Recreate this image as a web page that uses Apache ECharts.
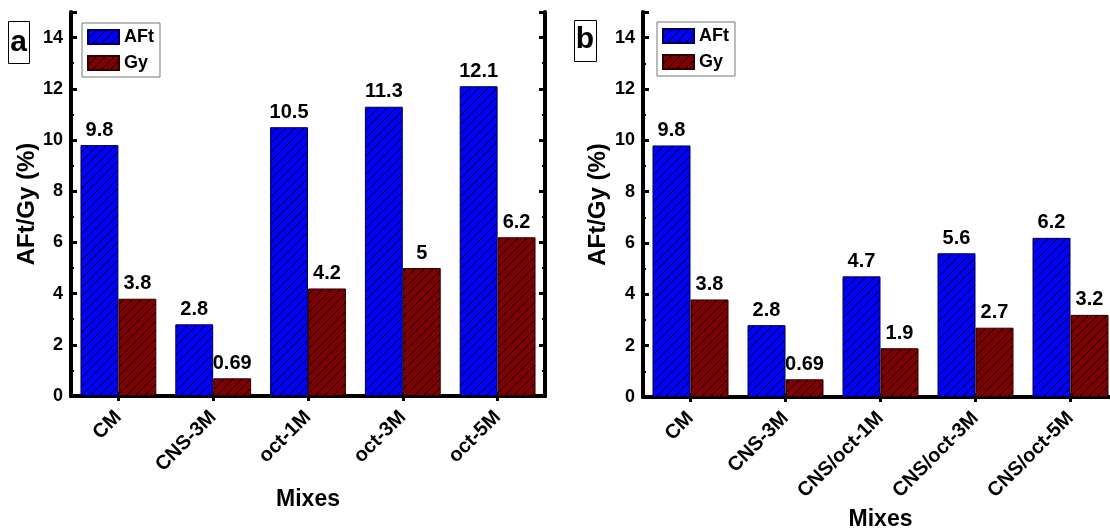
<!DOCTYPE html>
<html>
<head>
<meta charset="utf-8">
<script src="https://cdn.jsdelivr.net/npm/echarts@6/dist/echarts.min.js"></script>
<style>
html,body{margin:0;padding:0;background:#fff;}
#chart{width:1110px;height:529px;}
</style>
</head>
<body>
<div id="chart"></div>
<script>
// ---- data ----
const categoriesA = ['CM', 'CNS-3M', 'oct-1M', 'oct-3M', 'oct-5M'];
const categoriesB = ['CM', 'CNS-3M', 'CNS/oct-1M', 'CNS/oct-3M', 'CNS/oct-5M'];
const aftA = [9.8, 2.8, 10.5, 11.3, 12.1];
const gyA = [3.8, 0.69, 4.2, 5, 6.2];
const aftB = [9.8, 2.8, 4.7, 5.6, 6.2];
const gyB = [3.8, 0.69, 1.9, 2.7, 3.2];
const seriesNames = ['AFt', 'Gy'];
const yMin = 0, yMax = 15, yInterval = 2;
const panelLetters = ['a', 'b'];
const yTitle = 'AFt/Gy (%)';
const xTitle = 'Mixes';

// ---- styles ----
const FONT = "'Liberation Sans', Arial, sans-serif";
function hatch(color) {
  const s = 9;
  const c = document.createElement('canvas');
  c.width = s; c.height = s;
  const g = c.getContext('2d');
  g.fillStyle = color; g.fillRect(0, 0, s, s);
  g.strokeStyle = '#000'; g.lineWidth = 1;
  g.beginPath();
  g.moveTo(0, s); g.lineTo(s, 0);
  g.moveTo(-2, 2); g.lineTo(2, -2);
  g.moveTo(s - 2, s + 2); g.lineTo(s + 2, s - 2);
  g.stroke();
  return { image: c, repeat: 'repeat' };
}
const blueFill = hatch('#0000ff');
const redFill = hatch('#7f0000');

const grids = [
  { left: 71, top: 12, width: 474, height: 384, outerBoundsMode: 'none', containLabel: false },
  { left: 643, top: 12, width: 475, height: 385, outerBoundsMode: 'none', containLabel: false }
];

const frameLine = { show: true, lineStyle: { color: '#000', width: 4 } };

function xAxes(gi, cats, nameGap) {
  return [
    {
      type: 'category', gridIndex: gi, data: cats, position: 'bottom',
      axisLine: frameLine,
      axisTick: { show: true, inside: true, alignWithLabel: true, length: 4, lineStyle: { color: '#000', width: 3 } },
      axisLabel: { rotate: 45, margin: 18, interval: 0, color: '#000', fontFamily: FONT, fontWeight: 'bold', fontSize: 20 },
      name: xTitle, nameLocation: 'middle', nameGap: nameGap,
      nameTextStyle: { color: '#000', fontFamily: FONT, fontWeight: 'bold', fontSize: 23 },
      splitLine: { show: false }
    },
    {
      type: 'category', gridIndex: gi, data: cats, position: 'top',
      axisLine: frameLine,
      axisTick: { show: true, inside: true, alignWithLabel: true, length: 5, lineStyle: { color: '#000', width: 3 } },
      axisLabel: { show: false },
      splitLine: { show: false }
    }
  ];
}
function yAxes(gi, nameGap) {
  const common = {
    type: 'value', gridIndex: gi, min: yMin, max: yMax, interval: yInterval,
    axisLine: frameLine,
    axisTick: { show: true, inside: true, length: 6, lineStyle: { color: '#000', width: 3 } },
    minorTick: { show: true, splitNumber: 2, length: 3, lineStyle: { color: '#000', width: 2 } },
    splitLine: { show: false }, minorSplitLine: { show: false }
  };
  return [
    Object.assign({}, common, {
      position: 'left',
      axisLabel: { show: true, margin: 8, showMaxLabel: false, color: '#000', fontFamily: FONT, fontWeight: 'bold', fontSize: 18 },
      name: yTitle, nameLocation: 'middle', nameGap: nameGap, nameRotate: 90,
      nameTextStyle: { color: '#000', fontFamily: FONT, fontWeight: 'bold', fontSize: 24 }
    }),
    Object.assign({}, common, { position: 'right', axisLabel: { show: false } })
  ];
}

const labelStyle = { show: true, position: 'top', distance: 5, color: '#000', fontFamily: FONT, fontWeight: 'bold', fontSize: 20, formatter: '{c}' };

function barSeries(name, data, xi, yi, fill, border) {
  return {
    name: name, type: 'bar', xAxisIndex: xi, yAxisIndex: yi, data: data,
    barGap: '0%', barCategoryGap: '20%',
    itemStyle: { color: fill, borderColor: border, borderWidth: 1 },
    label: labelStyle,
    emphasis: { disabled: true },
    animation: false
  };
}

const legendCommon = {
  orient: 'vertical', itemWidth: 31, itemHeight: 14, itemGap: 8, itemSymbolKeepAspect: false,
  padding: [5, 6, 5, 5], borderColor: '#777', borderWidth: 1, backgroundColor: '#fff',
  icon: 'rect', selectedMode: false,
  textStyle: { color: '#000', fontFamily: FONT, fontWeight: 'bold', fontSize: 18, padding: [0, 0, 0, 0] },
  data: seriesNames
};

const option = {
  backgroundColor: '#fff',
  animation: false,
  grid: grids,
  xAxis: [].concat(xAxes(0, categoriesA, 92), xAxes(1, categoriesB, 109)),
  yAxis: [].concat(yAxes(0, 30), yAxes(1, 33)),
  legend: [
    Object.assign({}, legendCommon, { left: 82, top: 23 }),
    Object.assign({}, legendCommon, { left: 657, top: 22 })
  ],
  series: [
    barSeries(seriesNames[0], aftA, 0, 0, blueFill, '#00004a'),
    barSeries(seriesNames[1], gyA, 0, 0, redFill, '#2a0000'),
    barSeries(seriesNames[0], aftB, 2, 2, blueFill, '#00004a'),
    barSeries(seriesNames[1], gyB, 2, 2, redFill, '#2a0000')
  ],
  graphic: [
    { type: 'rect', left: 8, top: 21, shape: { width: 21, height: 42 }, style: { fill: '#fff', stroke: '#000', lineWidth: 1 } },
    { type: 'text', x: 18.5, y: 43, style: { text: panelLetters[0], fill: '#000', align: 'center', verticalAlign: 'middle', font: "bold 30px 'Liberation Sans', Arial, sans-serif" } },
    { type: 'rect', left: 574, top: 20, shape: { width: 22, height: 41 }, style: { fill: '#fff', stroke: '#000', lineWidth: 1 } },
    { type: 'text', x: 585, y: 40, style: { text: panelLetters[1], fill: '#000', align: 'center', verticalAlign: 'middle', font: "bold 30px 'Liberation Sans', Arial, sans-serif" } }
  ]
};

const chart = echarts.init(document.getElementById('chart'), null, { renderer: 'canvas' });
chart.setOption(option);
</script>
</body>
</html>
